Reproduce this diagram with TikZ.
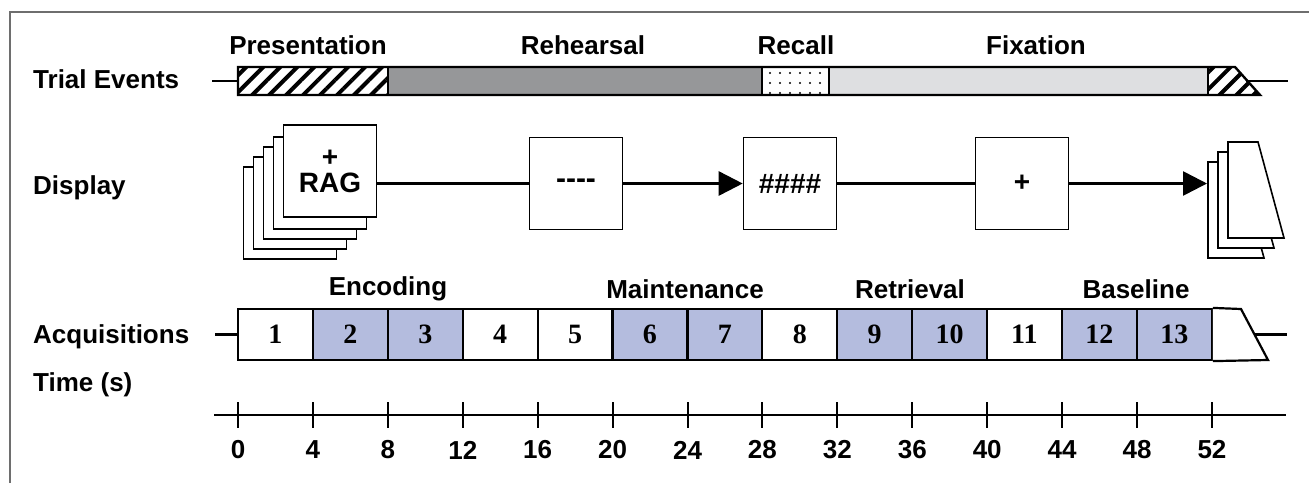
\documentclass[tikz,border=0pt]{standalone}
\usepackage{fontspec}
\setmainfont{Liberation Sans}
\newfontfamily\numfont{Liberation Serif}
\usetikzlibrary{arrows.meta,patterns.meta,positioning}

\definecolor{acqblue}{RGB}{180,188,222}
\definecolor{rehgray}{RGB}{150,151,153}
\definecolor{fixgray}{RGB}{222,223,225}
\definecolor{framegray}{RGB}{110,110,110}

\tikzset{
  rowlabel/.style={anchor=west, inner sep=0pt, font=\fontsize{26}{30}\selectfont\bfseries},
  toplabel/.style={inner sep=0pt, font=\fontsize{26}{30}\selectfont\bfseries},
  screen/.style={draw, line width=1.6pt, fill=white, minimum width=93pt, minimum height=92pt, inner sep=0pt},
  acqbox/.style={draw, line width=2.2pt, minimum width=74.9pt, minimum height=51pt, inner sep=0pt,
    font=\numfont\fontsize{28}{30}\selectfont\bfseries},
  ticklabel/.style={inner sep=0pt, font=\fontsize{26}{30}\selectfont\bfseries},
  conn/.style={line width=2.6pt},
  hatch/.style={pattern={Lines[angle=45,distance=12pt,line width=4pt]}},
}

\begin{document}
\begin{tikzpicture}[x=1pt, y=-1pt]
  \useasboundingbox (0,0) rectangle (1309,483);

  % frame
  \draw[framegray, line width=2pt] (10,483) -- (10,12) -- (1309,12);

  % row labels
  \node[rowlabel] (lbltrial) at (33,79) {Trial Events};
  \node[rowlabel] (lbldisp) at (33,188) {Display};
  \node[rowlabel] (lblacq) at (33,337) {Acquisitions};
  \node[rowlabel] (lbltime) at (33,385) {Time (s)};

  % trial events
  \draw[line width=2.6pt] (212,81) -- (238,81);
  \fill[white] (238,67) rectangle (388,95);
  \fill[hatch] (238,67) rectangle (388,95);
  \fill[rehgray] (388,67) rectangle (762,95);
  \fill[white] (762,67) rectangle (829,95);
  \fill[pattern={Dots[distance=10pt,radius=1.1pt]}] (762,67) rectangle (829,95);
  \fill[fixgray] (829,67) rectangle (1208,95);
  \fill[hatch] (1208,67) -- (1235,67) -- (1260,95) -- (1208,95) -- cycle;
  \draw[line width=2.4pt] (1235,67) -- (238,67) -- (238,95) -- (1260,95) -- cycle;
  \foreach \x in {388,762,829,1208}
    \draw[line width=2pt] (\x,67) -- (\x,95);
  \draw[line width=2.6pt] (1246,81) -- (1288,81);

  \node[toplabel] (presentation) at (308,45) {Presentation};
  \node[toplabel] (rehearsal) at (583,45) {Rehearsal};
  \node[toplabel] (recall) at (796,45) {Recall};
  \node[toplabel] (fixation) at (1036,45) {Fixation};

  % display
  \foreach \k in {4,3,2,1}
    \node[screen] (s\k) at ({330-10*\k},{173+10*\k}) {};
  \node[screen, align=center, font=\fontsize{28}{26}\selectfont\bfseries] (rag) at (330,171) {+\\RAG};
  \node[screen, font=\fontsize{30}{30}\selectfont\bfseries] (dash) at (576,183.5) {{-}{-}{-}{-}};
  \node[screen, font=\fontsize{28}{30}\selectfont\bfseries] (hash) at (790,183.5) {\#\#\#\#};
  \node[screen, font=\fontsize{28}{30}\selectfont\bfseries] (fix) at (1022,183.5) {+};
  \coordinate (endstk) at (1207,183.5);

  \foreach \k in {2,1,0}
    \draw[line width=1.6pt, fill=white] ({1228-10*\k},{142+10*\k}) -- ++(30,0) -- ++(26,96) -- ++(-56,0) -- cycle;

  \draw[conn] (rag.east |- dash.west) -- (dash.west);
  \draw[conn, -{Triangle[length=24pt,width=24pt]}] (dash) -- (hash);
  \draw[conn] (hash) -- (fix);
  \draw[conn, -{Triangle[length=24pt,width=24pt]}] (fix) -- (endstk);

  % acquisitions
  \draw[line width=2.6pt] (215,334.5) -- (238,334.5);
  \foreach \i/\c in {1/white,2/acqblue,3/acqblue,4/white,5/white,6/acqblue,7/acqblue,
                     8/white,9/acqblue,10/acqblue,11/white,12/acqblue,13/acqblue}
    \node[acqbox, fill=\c] (a\i) at ({238+74.9*(\i-0.5)},334.5) {\i};
  \draw[line width=2.2pt, fill=white] (a13.north east) -- (1241,309) -- (1268,360) -- (a13.south east);
  \draw[line width=2.6pt] (1255,334.5) -- (1287,334.5);

  \node[toplabel] (encoding) at (388,289) {Encoding};
  \node[toplabel] (maintenance) at (685,289) {Maintenance};
  \node[toplabel] (retrieval) at (910,289) {Retrieval};
  \node[toplabel] (baseline) at (1136,289) {Baseline};

  % time axis
  \draw[line width=2.6pt] (214,415) -- (1286,415);
  \foreach \t in {0,4,...,52}{
    \draw[line width=2pt] ({238+18.73*\t},402) -- ({238+18.73*\t},428);
    \node[ticklabel] (t\t) at ({238+18.73*\t},450) {\t};
  }
\end{tikzpicture}
\end{document}
